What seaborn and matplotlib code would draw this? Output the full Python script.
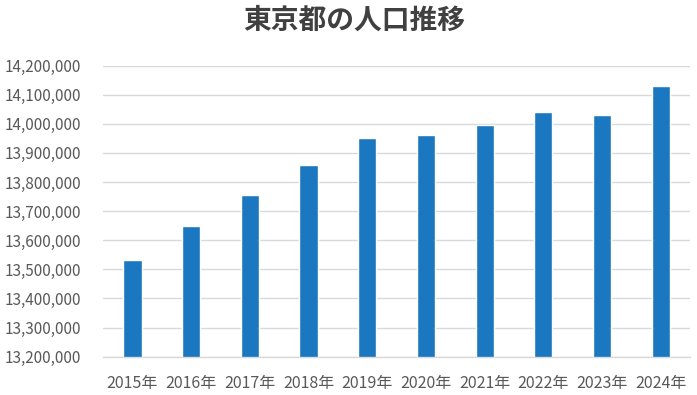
import matplotlib
matplotlib.use("Agg")
import matplotlib.pyplot as plt
import matplotlib.ticker as mticker
import seaborn as sns
import pandas as pd

years = ["2015年", "2016年", "2017年", "2018年", "2019年",
         "2020年", "2021年", "2022年", "2023年", "2024年"]
population = [13532000, 13649000, 13756000, 13859000, 13952000,
              13962000, 13997000, 14041000, 14031000, 14131000]
title = "東京都の人口推移"

sns.set_theme(style="white")
plt.rcParams['font.family'] = ['Noto Sans CJK JP', 'DejaVu Sans']

df = pd.DataFrame({"year": years, "pop": population})

fig = plt.figure(figsize=(6.97, 3.95), dpi=100)
ax = fig.add_axes([0.148, 0.097, 0.842, 0.737])

ax.set_axisbelow(True)
ax.yaxis.grid(True, color="#D9D9D9", linewidth=1.0)
sns.barplot(data=df, x="year", y="pop", color="#1B77C0", width=0.31,
            saturation=1, ax=ax)
ax.set_ylim(13200000, 14200000)
ax.yaxis.set_major_locator(mticker.MultipleLocator(100000))
ax.yaxis.set_major_formatter(mticker.FuncFormatter(lambda v, p: f"{int(round(v)):,}"))

for s in ["top", "right", "left"]:
    ax.spines[s].set_visible(False)
ax.spines["bottom"].set_color("#D9D9D9")
ax.spines["bottom"].set_linewidth(1.0)

ax.set_xlabel("")
ax.set_ylabel("")
ax.tick_params(axis="both", length=0, labelsize=11, colors="#595959")
ax.tick_params(axis="x", labelsize=11.5, pad=13)
ax.tick_params(axis="y", pad=16)

fig.text(0.508, 0.948, title, ha="center", va="center", fontsize=20,
         fontweight="bold", color="#404040")

fig.savefig("out.png", dpi=100, facecolor="white")
